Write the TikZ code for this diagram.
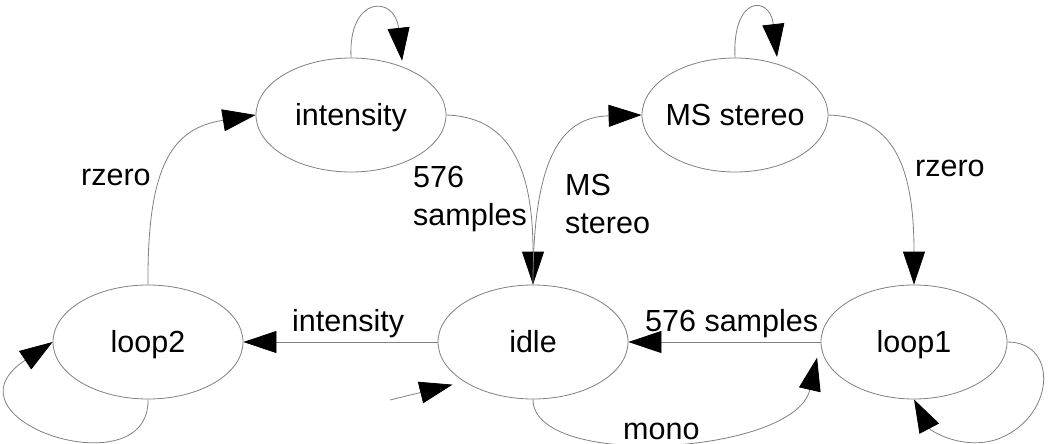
\documentclass[tikz,border=0pt]{standalone}
\usepackage{fontspec}
\setmainfont{Liberation Sans}
\usetikzlibrary{arrows.meta,shapes.geometric}
\definecolor{linegray}{RGB}{128,128,128}
\newcommand{\statetext}[1]{\makebox[0pt]{\raisebox{-10pt}[0pt][0pt]{#1}}}
\begin{document}
\begin{tikzpicture}[x=1pt,y=-1pt,
  font=\fontsize{30.5}{38}\selectfont,
  state/.style={ellipse, draw=linegray, line width=0.8pt, minimum width=190pt, minimum height=114pt, inner sep=0pt},
  edge/.style={draw=linegray, line width=0.8pt, -{Triangle[length=33pt,width=22pt,color=black,fill=black]}},
  lbl/.style={anchor=base west, inner sep=0pt}
]
\useasboundingbox (0,0) rectangle (1049,444);

\node[state] (intensity) at (351,115) {\statetext{intensity}};
\node[state, minimum width=186pt] (ms) at (735,115) {\statetext{MS stereo}};
\node[state] (loop2) at (148,342) {\statetext{loop2}};
\node[state] (idle) at (533,342) {\statetext{idle}};
\node[state, minimum width=186pt] (loop1) at (914,342) {\statetext{loop1}};

% self loops
\draw[edge, shorten >=6pt] (intensity.north) .. controls (348,-5) and (395,-5) .. (intensity.43);
\draw[edge, shorten >=7pt] (ms.north) .. controls (732,-5) and (770,-5) .. (ms.50);
\draw[edge] (loop2.south) .. controls (150,490) and (-65,420) .. (loop2.west);
\draw[edge] (loop1.east) .. controls (1060,342) and (1055,420) .. (995,440) .. controls (960,450) and (930,430) .. (loop1.south);

% transitions
\draw[edge] (loop2.north) .. controls (147,160) and (175,128) .. (intensity.west);
\draw[edge] (intensity.east) .. controls (505,117) and (533,160) .. (idle.north);
\draw[edge] (idle.north) .. controls (533,160) and (560,117) .. (ms.west);
\draw[edge] (ms.east) .. controls (890,117) and (914,160) .. (loop1.north);
\draw[edge] (loop1.west) -- (idle.east);
\draw[edge] (idle.west) -- (loop2.east);
\draw[edge, shorten >=16pt] (idle.south) .. controls (533,470) and (795,455) .. (loop1.west);

% initial arrow
\coordinate (init) at (390,400);
\draw[edge, shorten >=12pt] (init) -- (idle.210);

% labels
\node[lbl] (lrz1) at (81,185) {rzero};
\node[lbl] (l576a) at (413,187) {576};
\node[lbl] (l576b) at (413,225) {samples};
\node[lbl] (lmsa) at (565,195) {MS};
\node[lbl] (lmsb) at (565,233) {stereo};
\node[lbl] (lrz2) at (915,176) {rzero};
\node[lbl] (lint) at (292,331) {intensity};
\node[lbl] (l576c) at (645,331) {576 samples};
\node[lbl] (lmono) at (623,439) {mono};
\end{tikzpicture}
\end{document}
